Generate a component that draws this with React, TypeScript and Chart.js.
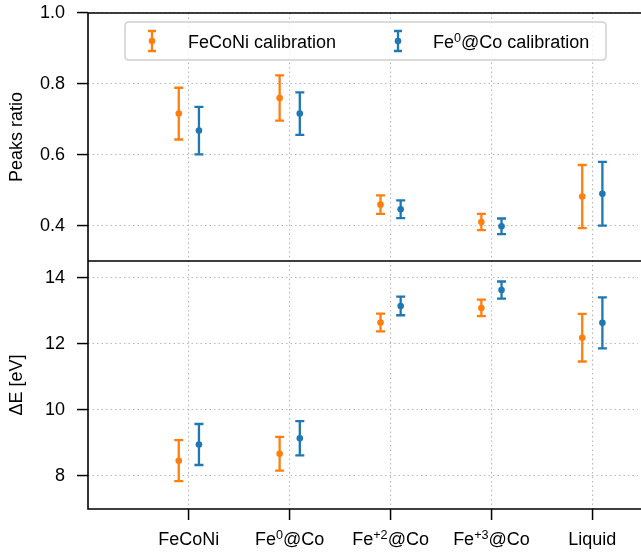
import React, { useEffect, useRef } from 'react';
import { Chart, registerables } from 'chart.js';

Chart.register(...registerables);

// ---- data ----
const categories = ['FeCoNi', 'Fe⁰@Co', 'Fe⁺²@Co', 'Fe⁺³@Co', 'Liquid'];
const seriesNames = ['FeCoNi calibration', 'Fe⁰@Co calibration'];
const seriesColors = ['#ff7f0e', '#1f77b4'];
const seriesOffset = [-0.1, 0.1];

const ratioFeCoNi = [0.716, 0.760, 0.459, 0.410, 0.482];
const ratioFeCoNiErr = [0.073, 0.064, 0.026, 0.023, 0.089];
const ratioFe0 = [0.668, 0.716, 0.446, 0.398, 0.490];
const ratioFe0Err = [0.067, 0.060, 0.025, 0.022, 0.090];

const dEFeCoNi = [8.46, 8.67, 12.64, 13.08, 12.18];
const dEFeCoNiErr = [0.62, 0.51, 0.27, 0.25, 0.72];
const dEFe0 = [8.95, 9.14, 13.14, 13.62, 12.63];
const dEFe0Err = [0.62, 0.52, 0.28, 0.26, 0.77];

const ratioTicks = [0.4, 0.6, 0.8, 1.0];
const dETicks = [8, 10, 12, 14];
const ratioRange = [0.3, 1.0];
const dERange = [7, 14.5];
const xRange = [-1, 4.45];

const FONT = "'Liberation Sans', Arial, Helvetica, sans-serif";
const FONT_SIZE = 18;

const SUP_MAP: Record<string, string> = {
  '⁰': '0', '¹': '1', '²': '2', '³': '3', '⁴': '4', '⁵': '5', '⁶': '6', '⁷': '7', '⁸': '8', '⁹': '9', '⁺': '+', '⁻': '-',
};

function splitRich(text: string) {
  const runs: { t: string; sup: boolean }[] = [];
  for (const ch of text) {
    const sup = ch in SUP_MAP;
    const c = sup ? SUP_MAP[ch] : ch;
    const last = runs[runs.length - 1];
    if (last && last.sup === sup) last.t += c;
    else runs.push({ t: c, sup });
  }
  return runs;
}

// draws text with superscript runs; y is the alphabetic baseline
function drawRich(ctx: CanvasRenderingContext2D, text: string, x: number, y: number, align: 'left' | 'center', size: number) {
  const runs = splitRich(text);
  const supSize = size * 0.7;
  const widths = runs.map((r) => {
    ctx.font = `${r.sup ? supSize : size}px ${FONT}`;
    return ctx.measureText(r.t).width;
  });
  const total = widths.reduce((a, b) => a + b, 0);
  let cx = align === 'center' ? x - total / 2 : x;
  ctx.textAlign = 'left';
  ctx.textBaseline = 'alphabetic';
  runs.forEach((r, i) => {
    ctx.font = `${r.sup ? supSize : size}px ${FONT}`;
    ctx.fillText(r.t, cx, r.sup ? y - size * 0.36 : y);
    cx += widths[i];
  });
}

function makeDataset(label: string, values: number[], errors: number[], s: number, axis: string, showInLegend: boolean) {
  return {
    label,
    data: values.map((v, i) => ({ x: i + seriesOffset[s], y: v })),
    errors,
    yAxisID: axis,
    backgroundColor: seriesColors[s],
    borderColor: seriesColors[s],
    pointRadius: 3.3,
    pointHoverRadius: 3.3,
    borderWidth: 0,
    showLine: false,
    legendEntry: showInLegend,
  };
}

const errorBarPlugin = {
  id: 'errorBars',
  beforeDatasetsDraw(chart: any) {
    const ctx = chart.ctx;
    chart.data.datasets.forEach((ds: any, di: number) => {
      const meta = chart.getDatasetMeta(di);
      const yScale = chart.scales[ds.yAxisID];
      ctx.save();
      ctx.strokeStyle = ds.borderColor;
      ctx.lineWidth = 2.3;
      meta.data.forEach((pt: any, i: number) => {
        const v = ds.data[i].y;
        const e = ds.errors[i];
        const x = pt.x;
        const yHi = yScale.getPixelForValue(v + e);
        const yLo = yScale.getPixelForValue(v - e);
        ctx.beginPath();
        ctx.moveTo(x, yHi);
        ctx.lineTo(x, yLo);
        ctx.moveTo(x - 4.5, yHi);
        ctx.lineTo(x + 4.5, yHi);
        ctx.moveTo(x - 4.5, yLo);
        ctx.lineTo(x + 4.5, yLo);
        ctx.stroke();
      });
      ctx.restore();
    });
  },
};

const framePlugin = {
  id: 'frame',
  afterDraw(chart: any) {
    const ctx = chart.ctx;
    const { left, top, bottom } = chart.chartArea;
    const right = chart.width;
    const mid = chart.scales.yTop.bottom;
    ctx.save();
    ctx.strokeStyle = '#000';
    ctx.lineWidth = 1.6;
    ctx.beginPath();
    ctx.moveTo(left, top);
    ctx.lineTo(right, top);
    ctx.moveTo(left, mid);
    ctx.lineTo(right, mid);
    ctx.moveTo(left, bottom);
    ctx.lineTo(right, bottom);
    ctx.moveTo(left, top - 0.8);
    ctx.lineTo(left, bottom + 0.8);
    ctx.stroke();
    // x tick labels with superscripts
    ctx.fillStyle = '#000';
    const xs = chart.scales.x;
    categories.forEach((c, i) => {
      drawRich(ctx, c, xs.getPixelForValue(i), bottom + 36, 'center', FONT_SIZE);
    });
    ctx.restore();
  },
};

function roundRect(ctx: CanvasRenderingContext2D, x: number, y: number, w: number, h: number, r: number) {
  ctx.beginPath();
  ctx.moveTo(x + r, y);
  ctx.lineTo(x + w - r, y);
  ctx.quadraticCurveTo(x + w, y, x + w, y + r);
  ctx.lineTo(x + w, y + h - r);
  ctx.quadraticCurveTo(x + w, y + h, x + w - r, y + h);
  ctx.lineTo(x + r, y + h);
  ctx.quadraticCurveTo(x, y + h, x, y + h - r);
  ctx.lineTo(x, y + r);
  ctx.quadraticCurveTo(x, y, x + r, y);
  ctx.closePath();
}

const legendPlugin = {
  id: 'innerLegend',
  afterDraw(chart: any) {
    const ctx = chart.ctx;
    const boxX = 125, boxY = 22, boxW = 481, boxH = 38;
    ctx.save();
    roundRect(ctx, boxX, boxY, boxW, boxH, 4);
    ctx.fillStyle = 'rgba(255,255,255,0.8)';
    ctx.fill();
    ctx.strokeStyle = '#d0d0d0';
    ctx.lineWidth = 1.5;
    ctx.stroke();
    const cy = boxY + boxH / 2;
    const entries = chart.data.datasets.filter((d: any) => d.legendEntry);
    const iconX = [152, 398];
    const textX = [188, 433];
    entries.forEach((ds: any, k: number) => {
      const x = iconX[k];
      ctx.strokeStyle = ds.borderColor;
      ctx.lineWidth = 2.3;
      ctx.beginPath();
      ctx.moveTo(x, cy - 10);
      ctx.lineTo(x, cy + 10);
      ctx.moveTo(x - 4, cy - 10);
      ctx.lineTo(x + 4, cy - 10);
      ctx.moveTo(x - 4, cy + 10);
      ctx.lineTo(x + 4, cy + 10);
      ctx.stroke();
      ctx.fillStyle = ds.backgroundColor;
      ctx.beginPath();
      ctx.arc(x, cy, 3.3, 0, Math.PI * 2);
      ctx.fill();
      ctx.fillStyle = '#000';
      drawRich(ctx, ds.label, textX[k], cy + 7, 'left', FONT_SIZE);
    });
    ctx.restore();
  },
};

const gridCommon = {
  color: '#b8b8b8',
  lineWidth: 1.1,
  tickColor: '#000',
  tickWidth: 1.5,
  tickLength: 11,
};

function fitY(s: any) {
  s.width = 88;
  s.paddingTop = 0;
  s.paddingBottom = 0;
}

export default function App() {
  const ref = useRef<HTMLCanvasElement>(null);
  useEffect(() => {
    document.body.style.margin = '0';
    if (!ref.current) return;
    const datasets = [
      makeDataset(seriesNames[0], ratioFeCoNi, ratioFeCoNiErr, 0, 'yTop', true),
      makeDataset(seriesNames[1], ratioFe0, ratioFe0Err, 1, 'yTop', true),
      makeDataset(seriesNames[0], dEFeCoNi, dEFeCoNiErr, 0, 'yBot', false),
      makeDataset(seriesNames[1], dEFe0, dEFe0Err, 1, 'yBot', false),
    ];
    const chart = new Chart(ref.current, {
      type: 'scatter',
      data: { datasets: datasets as any },
      options: {
        animation: false,
        responsive: false,
        devicePixelRatio: 1,
        layout: { padding: { top: 13, right: 0, bottom: 0, left: 0 } },
        font: { family: FONT, size: FONT_SIZE } as any,
        plugins: {
          legend: { display: false },
          tooltip: { enabled: false },
        },
        scales: {
          x: {
            type: 'linear',
            min: xRange[0],
            max: xRange[1],
            afterBuildTicks: (s: any) => {
              s.ticks = categories.map((_, i) => ({ value: i }));
            },
            afterFit: (s: any) => {
              s.height = 43;
              s.paddingLeft = 0;
              s.paddingRight = 0;
            },
            ticks: {
              display: false,
              autoSkip: false,
              padding: 0,
              callback: (v: any) => categories[Math.round(Number(v))] ?? '',
            },
            grid: { ...gridCommon },
            border: { display: false, dash: [1.5, 3] },
          },
          yBot: {
            type: 'linear',
            position: 'left',
            stack: 'panels',
            stackWeight: 1,
            min: dERange[0],
            max: dERange[1],
            afterBuildTicks: (s: any) => {
              s.ticks = dETicks.map((v) => ({ value: v }));
            },
            afterFit: fitY,
            ticks: {
              color: '#000',
              padding: 12,
              font: { family: FONT, size: FONT_SIZE },
              callback: (v: any) => String(v),
            },
            title: {
              display: true,
              text: 'ΔE [eV]',
              color: '#000',
              font: { family: FONT, size: FONT_SIZE },
              padding: { top: 6, bottom: 0 },
            },
            grid: { ...gridCommon },
            border: { display: false, dash: [1.5, 3] },
          },
          yTop: {
            type: 'linear',
            position: 'left',
            stack: 'panels',
            stackWeight: 1,
            min: ratioRange[0],
            max: ratioRange[1],
            afterBuildTicks: (s: any) => {
              s.ticks = ratioTicks.map((v) => ({ value: v }));
            },
            afterFit: fitY,
            ticks: {
              color: '#000',
              padding: 12,
              font: { family: FONT, size: FONT_SIZE },
              callback: (v: any) => Number(v).toFixed(1),
            },
            title: {
              display: true,
              text: 'Peaks ratio',
              color: '#000',
              font: { family: FONT, size: FONT_SIZE },
              padding: { top: 6, bottom: 0 },
            },
            grid: { ...gridCommon },
            border: { display: false, dash: [1.5, 3] },
          },
        } as any,
      },
      plugins: [errorBarPlugin, framePlugin, legendPlugin],
    });
    return () => chart.destroy();
  }, []);
  return (
    <div style={{ width: 641, height: 552 }}>
      <canvas ref={ref} width={641} height={552} />
    </div>
  );
}
